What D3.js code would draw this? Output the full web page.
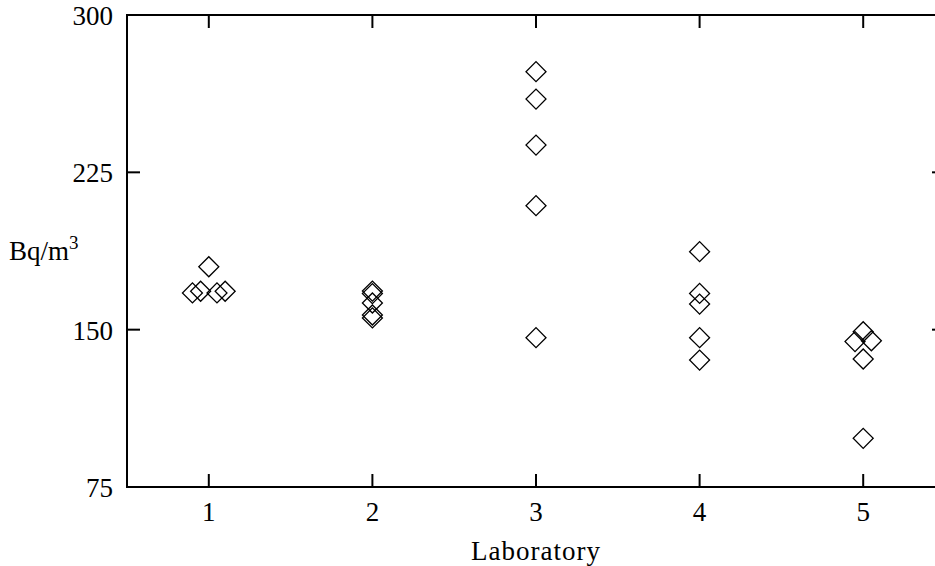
<!DOCTYPE html>
<html>
<head>
<meta charset="utf-8">
<script src="https://d3js.org/d3.v7.min.js"></script>
<style>
  body { margin: 0; background: #fff; overflow: hidden; }
  svg text { fill: #000; }
</style>
</head>
<body>
<div id="chart"></div>
<script>
// measurements per laboratory (x jitter as drawn in the source plot)
var lab1 = [[0.90, 167.5], [0.95, 168.3], [1.00, 180.0], [1.05, 167.5], [1.10, 168.3]];
var lab2 = [[2, 168.4], [2, 167.2], [2, 162.7], [2, 157.0], [2, 155.6]];
var lab3 = [[3, 273.0], [3, 259.9], [3, 238.0], [3, 209.1], [3, 146.2]];
var lab4 = [[4, 187.2], [4, 167.3], [4, 162.2], [4, 146.2], [4, 135.5]];
var lab5 = [[4.95, 144.3], [5, 149.0], [5, 136.0], [5.05, 144.7], [5, 98.2]];

var xTicks = [1, 2, 3, 4, 5];
var yTicks = [75, 150, 225, 300];

var width = 935, height = 566;
var margin = {left: 127, top: 15, right: -10, bottom: 79};
var serif = "'Times New Roman', 'Liberation Serif', Times, 'DejaVu Serif', serif";

var svg = d3.select("#chart").append("svg")
  .attr("width", width)
  .attr("height", height)
  .attr("font-family", serif);

var xs = d3.scaleLinear().domain([0.5, 5.5]).range([margin.left, width - margin.right]);
var ys = d3.scaleLinear().domain([75, 300]).range([height - margin.bottom, margin.top]);

var x0 = xs.range()[0], x1 = xs.range()[1];
var y0 = ys.range()[0], y1 = ys.range()[1];
var tl = 13;

var g = svg.append("g");

// ticks on all four sides, pointing inward
g.selectAll(".tb").data(xTicks).enter().append("line")
  .attr("x1", function(d) { return xs(d); }).attr("x2", function(d) { return xs(d); })
  .attr("y1", y0).attr("y2", y0 - tl)
  .attr("stroke", "#000").attr("stroke-width", 2);
g.selectAll(".tt").data(xTicks).enter().append("line")
  .attr("x1", function(d) { return xs(d); }).attr("x2", function(d) { return xs(d); })
  .attr("y1", y1).attr("y2", y1 + tl)
  .attr("stroke", "#000").attr("stroke-width", 2);
g.selectAll(".tl").data(yTicks).enter().append("line")
  .attr("x1", x0).attr("x2", x0 + tl)
  .attr("y1", function(d) { return ys(d); }).attr("y2", function(d) { return ys(d); })
  .attr("stroke", "#000").attr("stroke-width", 2);
g.selectAll(".tr").data(yTicks).enter().append("line")
  .attr("x1", x1).attr("x2", x1 - tl)
  .attr("y1", function(d) { return ys(d); }).attr("y2", function(d) { return ys(d); })
  .attr("stroke", "#000").attr("stroke-width", 2);

// frame
g.append("rect")
  .attr("x", x0).attr("y", y1)
  .attr("width", x1 - x0).attr("height", y0 - y1)
  .attr("fill", "none").attr("stroke", "#000").attr("stroke-width", 2);

// tick labels
g.selectAll(".yl").data(yTicks).enter().append("text")
  .attr("x", x0 - 14)
  .attr("y", function(d) { return ys(d) + 10; })
  .attr("text-anchor", "end")
  .attr("font-family", serif)
  .attr("font-size", 27)
  .text(function(d) { return d; });

g.selectAll(".xl").data(xTicks).enter().append("text")
  .attr("x", function(d) { return xs(d); })
  .attr("y", y0 + 34)
  .attr("text-anchor", "middle")
  .attr("font-family", serif)
  .attr("font-size", 27)
  .text(function(d) { return d; });

// axis titles
svg.append("text")
  .attr("x", xs(3))
  .attr("y", 560)
  .attr("text-anchor", "middle")
  .attr("font-family", serif)
  .attr("font-size", 27)
  .attr("letter-spacing", 1)
  .text("Laboratory");

var yl = svg.append("text")
  .attr("x", 9)
  .attr("y", 260)
  .attr("font-family", serif)
  .attr("font-size", 27);
yl.append("tspan").text("Bq/m");
yl.append("tspan").attr("dy", -11).attr("font-size", 19).text("3");

// points
var all = [].concat(lab1, lab2, lab3, lab4, lab5);
var diamond = d3.symbol().type(d3.symbolSquare).size(200);
g.selectAll(".pt").data(all).enter().append("path")
  .attr("d", diamond)
  .attr("transform", function(d) { return "translate(" + xs(d[0]) + "," + ys(d[1]) + ") rotate(45)"; })
  .attr("fill", "none")
  .attr("stroke", "#000")
  .attr("stroke-width", 1.3);
</script>
</body>
</html>
